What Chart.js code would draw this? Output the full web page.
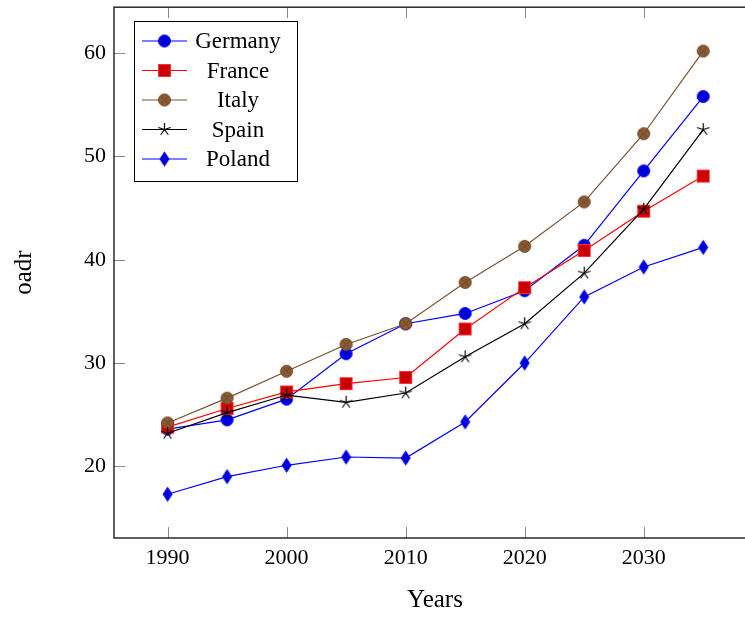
<!DOCTYPE html>
<html>
<head>
<meta charset="utf-8">
<script src="https://cdn.jsdelivr.net/npm/chart.js@4/dist/chart.umd.min.js"></script>
<style>
  html, body { margin: 0; padding: 0; background: #fff; overflow: hidden; width: 745px; height: 617px; }
  canvas { display: block; }
</style>
</head>
<body>
<canvas id="c" width="764" height="617" style="width:764px;height:617px"></canvas>
<script>
// Old-age dependency ratio projections by country
const years   = [1990, 1995, 2000, 2005, 2010, 2015, 2020, 2025, 2030, 2035];
const germany = [23.6, 24.5, 26.5, 30.9, 33.8, 34.8, 37.0, 41.4, 48.6, 55.8];
const france  = [23.8, 25.6, 27.2, 28.0, 28.6, 33.3, 37.3, 40.9, 44.7, 48.1];
const italy   = [24.2, 26.6, 29.2, 31.8, 33.8, 37.8, 41.3, 45.6, 52.2, 60.2];
const spain   = [23.2, 25.2, 26.9, 26.2, 27.1, 30.6, 33.8, 38.7, 44.9, 52.6];
const poland  = [17.3, 19.0, 20.1, 20.9, 20.8, 24.3, 30.0, 36.4, 39.3, 41.2];
const seriesNames = ['Germany', 'France', 'Italy', 'Spain', 'Poland'];
const xTicks = [1990, 2000, 2010, 2020, 2030];
const yTicks = [20, 30, 40, 50, 60];

const FONT = '"Liberation Serif", "DejaVu Serif", serif';

function makeMarker(w, h, draw) {
  const c = document.createElement('canvas');
  c.width = w; c.height = h;
  const g = c.getContext('2d');
  draw(g, w / 2, h / 2);
  return c;
}

const circleMark = makeMarker(15, 15, (g, cx, cy) => {
  g.beginPath(); g.arc(cx, cy, 6, 0, Math.PI * 2);
  g.fillStyle = '#0000d8'; g.fill();
  g.strokeStyle = '#0000ff'; g.lineWidth = 1; g.stroke();
});
const squareMark = makeMarker(15, 15, (g, cx, cy) => {
  g.fillStyle = '#cc0000'; g.fillRect(cx - 6, cy - 6, 12, 12);
  g.strokeStyle = '#ff3030'; g.lineWidth = 1; g.strokeRect(cx - 6, cy - 6, 12, 12);
});
const otimesMark = makeMarker(15, 15, (g, cx, cy) => {
  g.beginPath(); g.arc(cx, cy, 6, 0, Math.PI * 2);
  g.fillStyle = '#8c5a32'; g.fill();
  g.strokeStyle = '#6a4526'; g.lineWidth = 1; g.stroke();
  const d = 6 * Math.SQRT1_2;
  g.beginPath();
  g.moveTo(cx - d, cy - d); g.lineTo(cx + d, cy + d);
  g.moveTo(cx + d, cy - d); g.lineTo(cx - d, cy + d);
  g.stroke();
});
const starMark = makeMarker(15, 15, (g, cx, cy) => {
  g.strokeStyle = '#000'; g.lineWidth = 1.2;
  g.beginPath();
  for (let k = 0; k < 5; k++) {
    const a = -Math.PI / 2 + k * 2 * Math.PI / 5;
    g.moveTo(cx, cy);
    g.lineTo(cx + 6.5 * Math.cos(a), cy + 6.5 * Math.sin(a));
  }
  g.stroke();
});
const diamondMark = makeMarker(13, 17, (g, cx, cy) => {
  g.beginPath();
  g.moveTo(cx, cy - 7); g.lineTo(cx + 4.5, cy); g.lineTo(cx, cy + 7); g.lineTo(cx - 4.5, cy); g.closePath();
  g.fillStyle = '#0000d8'; g.fill();
  g.strokeStyle = '#0000ff'; g.lineWidth = 1; g.stroke();
});

const values  = [germany, france, italy, spain, poland];
const colors  = ['#0000ff', '#ff0000', '#7a5230', '#000000', '#0000ff'];
const markers = [circleMark, squareMark, otimesMark, starMark, diamondMark];

const datasets = seriesNames.map((name, i) => ({
  label: name,
  data: years.map((yr, j) => ({ x: yr, y: values[i][j] })),
  borderColor: colors[i],
  borderWidth: 1.2,
  pointStyle: markers[i],
  pointRadius: 6,
  fill: false,
  tension: 0,
  order: seriesNames.length - i
}));

// Frame, inward ticks, axis titles and the boxed legend
const decorPlugin = {
  id: 'decor',
  afterDatasetsDraw(chart) {
    const ctx = chart.ctx;
    const a = chart.chartArea;
    const xs = chart.scales.x, ys = chart.scales.y;
    ctx.save();
    // tick marks on all four sides
    ctx.strokeStyle = '#8a8a8a';
    ctx.lineWidth = 1;
    ctx.beginPath();
    xTicks.forEach(v => {
      const px = Math.round(xs.getPixelForValue(v)) + 0.5;
      ctx.moveTo(px, a.bottom); ctx.lineTo(px, a.bottom - 11);
      ctx.moveTo(px, a.top); ctx.lineTo(px, a.top + 11);
    });
    yTicks.forEach(v => {
      const py = Math.round(ys.getPixelForValue(v)) + 0.5;
      ctx.moveTo(a.left, py); ctx.lineTo(a.left + 11, py);
      ctx.moveTo(a.right, py); ctx.lineTo(a.right - 11, py);
    });
    ctx.stroke();
    // frame
    ctx.strokeStyle = '#2a2a2a';
    ctx.lineWidth = 1.5;
    ctx.strokeRect(a.left, a.top, a.right - a.left, a.bottom - a.top);

    // axis titles
    ctx.fillStyle = '#000';
    ctx.font = '25px ' + FONT;
    ctx.textAlign = 'center';
    ctx.textBaseline = 'middle';
    ctx.fillText('Years', 435, 600);
    ctx.save();
    ctx.translate(24, (a.top + a.bottom) / 2);
    ctx.rotate(-Math.PI / 2);
    ctx.fillText('oadr', 0, 0);
    ctx.restore();

    // legend
    const lx = 134, ly = 21, lw = 163, lh = 160;
    ctx.fillStyle = '#fff';
    ctx.fillRect(lx, ly, lw, lh);
    ctx.strokeStyle = '#000';
    ctx.lineWidth = 1;
    ctx.strokeRect(lx + 0.5, ly + 0.5, lw, lh);
    ctx.font = '23px ' + FONT;
    seriesNames.forEach((name, i) => {
      const cy = 41 + i * 29.5;
      ctx.strokeStyle = colors[i];
      ctx.lineWidth = 1.2;
      ctx.beginPath();
      ctx.moveTo(142, cy); ctx.lineTo(187, cy);
      ctx.stroke();
      const m = markers[i];
      ctx.drawImage(m, 164.5 - m.width / 2, cy - m.height / 2);
      ctx.fillStyle = '#000';
      ctx.textAlign = 'center';
      ctx.textBaseline = 'middle';
      ctx.fillText(name, 238, cy + 1);
    });
    ctx.restore();
  }
};

new Chart(document.getElementById('c'), {
  type: 'line',
  data: { datasets },
  options: {
    responsive: false,
    animation: false,
    layout: { padding: { top: 3, left: 0, right: 0, bottom: 0 } },
    plugins: { legend: { display: false }, tooltip: { enabled: false } },
    scales: {
      x: {
        type: 'linear',
        min: 1985.5,
        max: 2039.5,
        grid: { display: false, drawTicks: false },
        border: { display: false },
        afterBuildTicks: s => { s.ticks = xTicks.map(v => ({ value: v })); },
        afterFit: s => { s.height = 79; s.paddingLeft = 0; s.paddingRight = 0; },
        ticks: {
          font: { family: FONT, size: 22 },
          color: '#000',
          padding: 7,
          maxRotation: 0,
          callback: v => String(v)
        }
      },
      y: {
        type: 'linear',
        min: 13.06,
        max: 64.45,
        grid: { display: false, drawTicks: false },
        border: { display: false },
        afterBuildTicks: s => { s.ticks = yTicks.map(v => ({ value: v })); },
        afterFit: s => { s.width = 114; s.paddingTop = 0; s.paddingBottom = 0; },
        ticks: {
          font: { family: FONT, size: 22 },
          color: '#000',
          padding: 8,
          callback: v => String(v)
        }
      }
    }
  },
  plugins: [decorPlugin]
});
</script>
</body>
</html>
